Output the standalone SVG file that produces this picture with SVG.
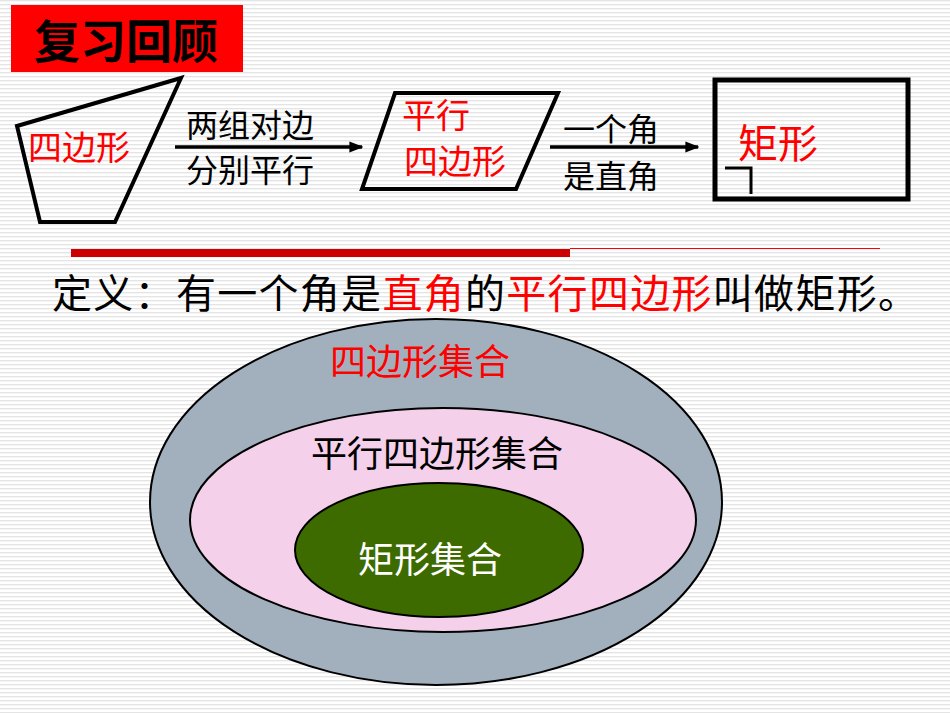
<svg xmlns="http://www.w3.org/2000/svg" width="950" height="713" viewBox="0 0 950 713">
<defs>
<pattern id="bg" width="4" height="4" patternUnits="userSpaceOnUse"><rect width="4" height="4" fill="#ffffff"/><rect y="0" width="4" height="1.3" fill="#e4e4e4"/></pattern>
<marker id="ah" viewBox="0 0 10 10" refX="9" refY="5" markerWidth="4" markerHeight="4" orient="auto" markerUnits="strokeWidth"><path d="M0,1 L10,5 L0,9 z" fill="#000"/></marker>
</defs>
<style>
text{font-family:"Noto Sans CJK SC","Liberation Sans",sans-serif}
.shape{fill:none;stroke:#000;stroke-width:4}
.lbl{font-size:32px;fill:#000}
.red{fill:#ff0000}
.conn{stroke:#000;stroke-width:3.5;marker-end:url(#ah)}
</style>
<rect width="950" height="713" fill="url(#bg)"/>
<g id="title"><rect x="11" y="5" width="232" height="67" fill="#ff0000"/><text x="34" y="58" font-size="46" font-weight="bold" fill="#000">复习回顾</text></g>
<g id="quad"><polygon class="shape" points="17,126 181,78 115,222 40,222"/><text x="28" y="160" font-size="34" class="red">四边形</text></g>
<g id="para"><polygon class="shape" points="395,93 558,93 516,189 362,189"/><text x="402" y="128" font-size="34" class="red">平行</text><text x="404" y="174" font-size="34" class="red">四边形</text></g>
<g id="rect"><rect x="715" y="80" width="193" height="119" fill="none" stroke="#000" stroke-width="5"/><path d="M725,168 H751 V194" fill="none" stroke="#000" stroke-width="3"/><text x="738" y="158" font-size="40" class="red">矩形</text></g>
<g id="connectors">
<line class="conn" x1="175" y1="147" x2="362" y2="147"/>
<line class="conn" x1="550" y1="147" x2="698" y2="147"/>
</g>
<g id="labels">
<text x="186" y="137" class="lbl" font-size="34">两组对边</text>
<text x="186" y="182" class="lbl" font-size="34">分别平行</text>
<text x="563" y="141" class="lbl" font-size="34">一个角</text>
<text x="563" y="188" class="lbl" font-size="34">是直角</text>
</g>
<g id="rule"><rect x="71" y="249" width="499" height="8" fill="#cc0000"/><line x1="570" y1="248.5" x2="880" y2="248.5" stroke="#ff0000" stroke-width="1"/></g>
<text x="52" y="308" font-size="40" fill="#000" textLength="866">定义：有一个角是<tspan fill="#ff0000">直角</tspan>的<tspan fill="#ff0000">平行四边形</tspan>叫做矩形。</text>
<g id="set-quad"><ellipse cx="436" cy="502" rx="286" ry="183" fill="#a2b0bd" stroke="#000" stroke-width="2"/><text x="330" y="375" font-size="36" class="red">四边形集合</text></g>
<g id="set-para"><ellipse cx="443" cy="520" rx="253" ry="112" fill="#f4d0ea" stroke="#000" stroke-width="2"/><text x="311" y="467" font-size="36" fill="#000">平行四边形集合</text></g>
<g id="set-rect"><ellipse cx="439" cy="550" rx="144" ry="67" fill="#3d6b00" stroke="#000" stroke-width="2"/><text x="358" y="573" font-size="36" fill="#fff">矩形集合</text></g>
</svg>
